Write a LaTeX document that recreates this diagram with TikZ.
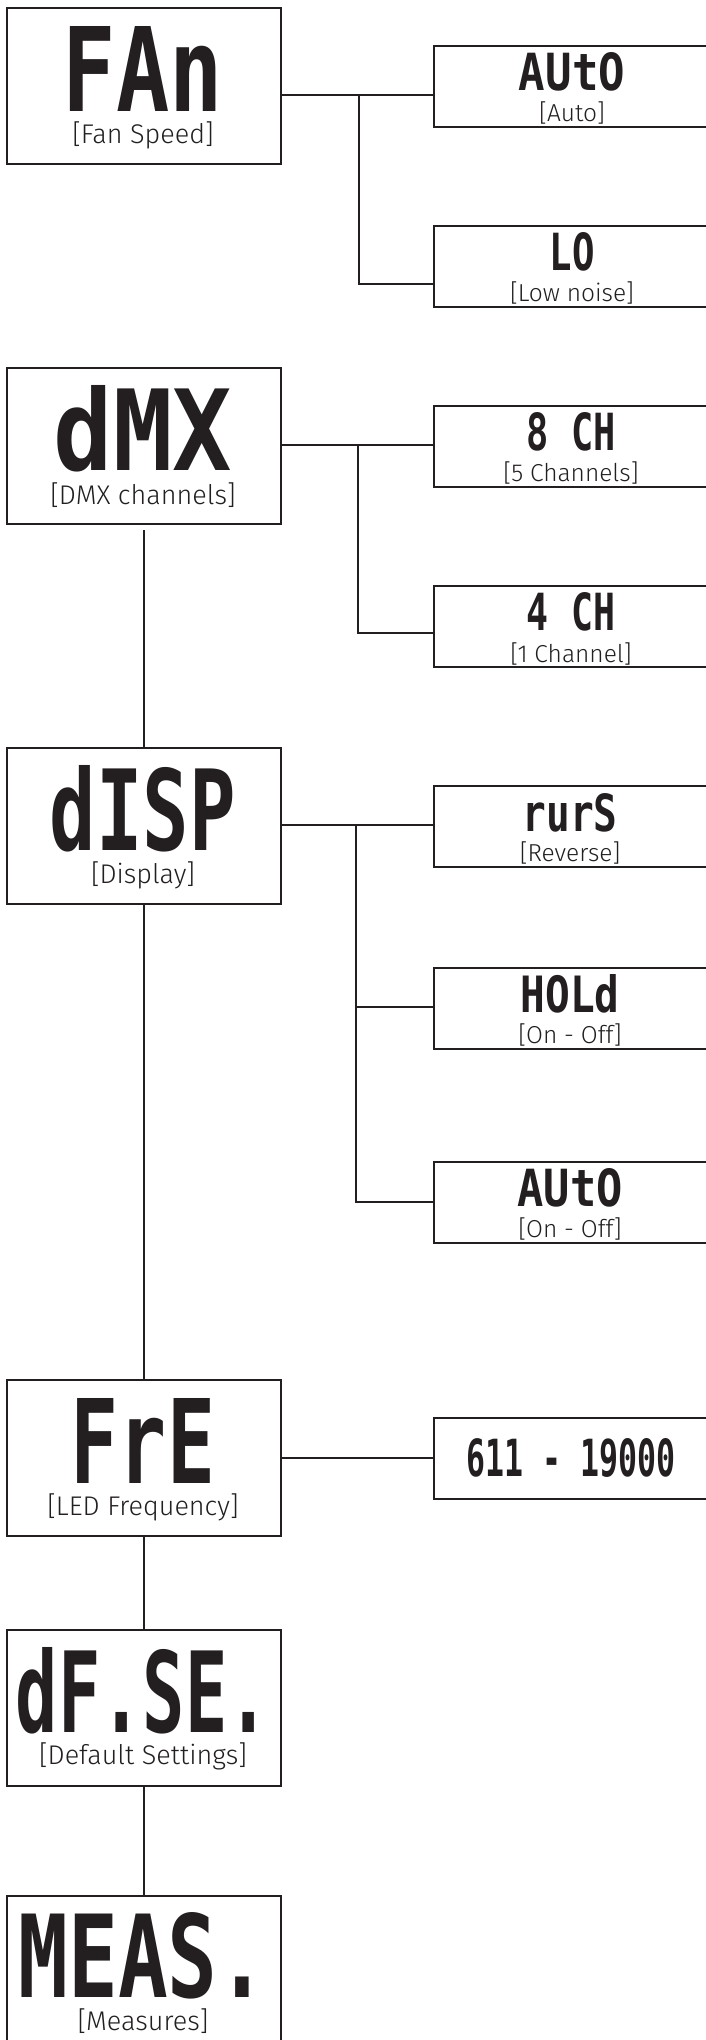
\documentclass[tikz,border=0pt]{standalone}
\usepackage{fontspec}
\usepackage{graphicx}
\newfontfamily\labfont{Fira Sans Light}
\newfontfamily\segfont{DejaVu Sans Mono}
\newcommand\segtxt[3]{\resizebox{#1pt}{#2pt}{\segfont\bfseries #3}}
\definecolor{ink}{RGB}{35,31,32}
\begin{document}
\begin{tikzpicture}[x=1pt,y=-1pt,
  lbox/.style={draw=ink, line width=2.2pt, minimum width=274pt, minimum height=156pt, inner sep=0pt, anchor=north west},
  rbox/.style={draw=ink, line width=2.2pt, minimum width=280pt, minimum height=81pt, inner sep=0pt, anchor=north west},
  seg/.style={inner sep=0pt, text=ink},
  lab/.style={inner sep=0pt, text=ink, font=\labfont\fontsize{27}{27}\selectfont},
  rlab/.style={inner sep=0pt, text=ink, font=\labfont\fontsize{24.5}{24.5}\selectfont},
  conn/.style={draw=ink, line width=2.2pt, line join=miter}]
\useasboundingbox (0,0) rectangle (706,2040);
\clip (0,0) rectangle (706,2040);
\fill[white] (0,0) rectangle (706,2040);

% left boxes
\node[lbox] (fan)  at (6,7)    {};
\node[lbox] (dmx)  at (6,367)  {};
\node[lbox] (disp) at (6,747)  {};
\node[lbox] (fre)  at (6,1379) {};
\node[lbox] (dfse) at (6,1629) {};
\node[lbox] (meas) at (6,1895) {};

% right boxes
\node[rbox] (auto1) at (433,45)   {};
\node[rbox] (lo)    at (433,225)  {};
\node[rbox] (ch8)   at (433,405)  {};
\node[rbox] (ch4)   at (433,585)  {};
\node[rbox] (rurs)  at (433,785)  {};
\node[rbox] (hold)  at (433,967)  {};
\node[rbox] (auto2) at (433,1161) {};
\node[rbox] (freq)  at (433,1417) {};

% left texts
\node[seg] (fanT)  at (143,69)   {\segtxt{160}{85}{FAn}};
\node[lab] (fanL)  at (143,135)  {[Fan Speed]};
\node[seg] (dmxT)  at (143,429)  {\segtxt{178}{85}{dMX}};
\node[lab] (dmxL)  at (143,495)  {[DMX channels]};
\node[seg] (dispT) at (143,809)  {\segtxt{186}{85}{dISP}};
\node[lab] (dispL) at (143,875)  {[Display]};
\node[seg] (freT)  at (143,1441) {\segtxt{144}{85}{FrE}};
\node[lab] (freL)  at (143,1507) {[LED Frequency]};
\node[seg] (dfseT) at (143,1691) {\segtxt{254}{85}{dF.SE.}};
\node[lab] (dfseL) at (143,1756) {[Default Settings]};
\node[seg] (measT) at (143,1956) {\segtxt{249}{85}{MEAS.}};
\node[lab] (measL) at (143,2021) {[Measures]};

% right texts
\node[seg]  (auto1T) at (572,72)   {\segtxt{106}{38}{AUtO}};
\node[rlab] (auto1L) at (572,113)  {[Auto]};
\node[seg]  (loT)    at (572,252)  {\segtxt{45}{38}{LO}};
\node[rlab] (loL)    at (572,293)  {[Low noise]};
\node[seg]  (ch8T)   at (571,432)  {\segtxt{89}{38}{8 CH}};
\node[rlab] (ch8L)   at (571,473)  {[5 Channels]};
\node[seg]  (ch4T)   at (571,612)  {\segtxt{88}{38}{4 CH}};
\node[rlab] (ch4L)   at (571,654)  {[1 Channel]};
\node[seg]  (rursT)  at (570,813)  {\segtxt{95}{38}{rurS}};
\node[rlab] (rursL)  at (570,853)  {[Reverse]};
\node[seg]  (holdT)  at (570,994)  {\segtxt{99}{38}{HOLd}};
\node[rlab] (holdL)  at (570,1035) {[On - Off]};
\node[seg]  (auto2T) at (570,1188) {\segtxt{105}{38}{AUtO}};
\node[rlab] (auto2L) at (570,1229) {[On - Off]};
\node[seg]  (freqT)  at (571,1458) {\segtxt{209}{38}{611 - 19000}};

% junction coordinates
\coordinate (j1)  at (359,95);
\coordinate (j1b) at (359,284);
\coordinate (j2)  at (358,445);
\coordinate (j2b) at (358,633);
\coordinate (j3)  at (356,825);
\coordinate (j3b) at (356,1007);
\coordinate (j3c) at (356,1202);
\coordinate (j4)  at (356,1458);

% connectors
\draw[conn] (fan.east |- j1) -- (auto1.west |- j1);
\draw[conn] (j1) -- (j1b) -- (lo.west |- j1b);
\draw[conn] (dmx.east |- j2) -- (ch8.west |- j2);
\draw[conn] (j2) -- (j2b) -- (ch4.west |- j2b);
\draw[conn] (disp.east |- j3) -- (rurs.west |- j3);
\draw[conn] (j3) -- (j3c) -- (auto2.west |- j3c);
\draw[conn] (j3b) -- (hold.west |- j3b);
\draw[conn] (fre.east |- j4) -- (freq.west |- j4);

\draw[conn, shorten <=5pt] (dmx.south) -- (disp.north);
\draw[conn] (disp.south) -- (fre.north);
\draw[conn] (fre.south) -- (dfse.north);
\draw[conn] (dfse.south) -- (meas.north);
\end{tikzpicture}
\end{document}
